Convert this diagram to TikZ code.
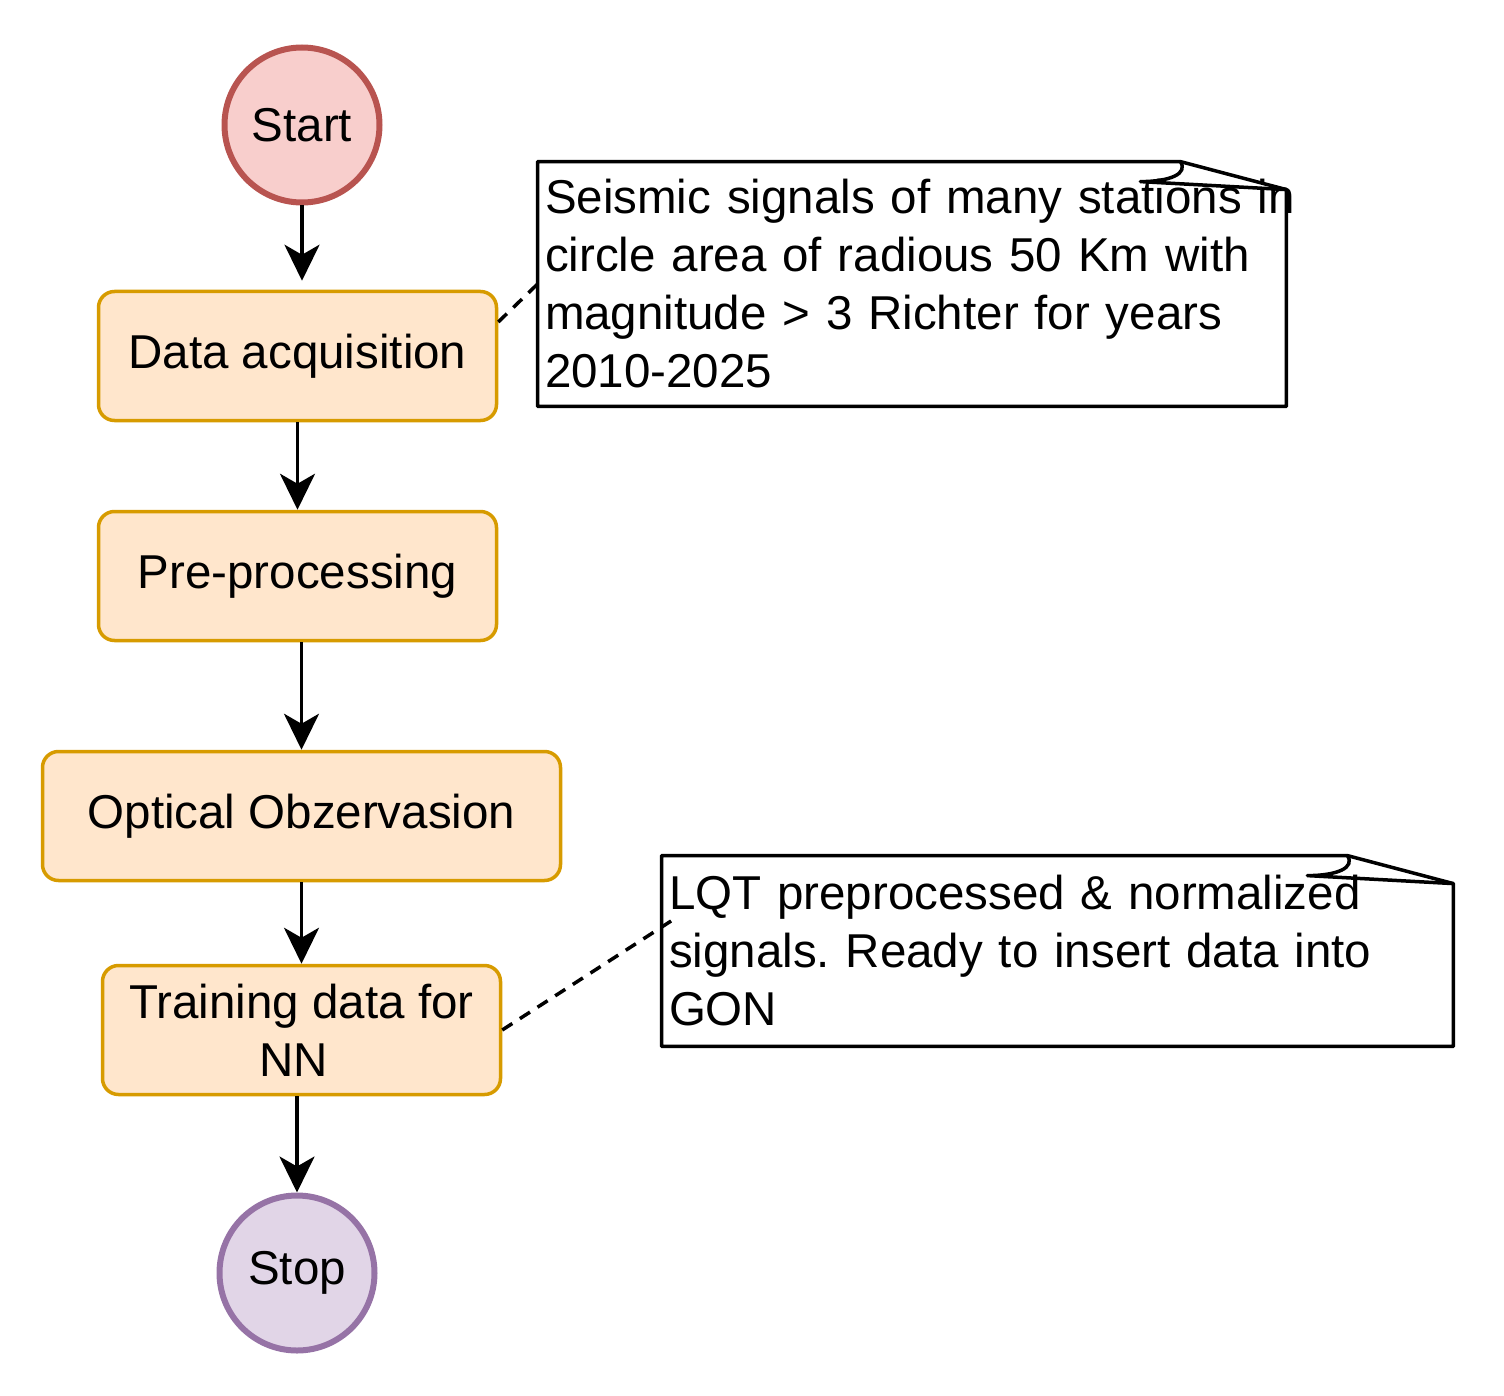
\documentclass[tikz,border=0pt]{standalone}
\usepackage{fontspec}
\setmainfont{Liberation Sans}
\usetikzlibrary{arrows.meta}
\definecolor{startfill}{HTML}{F8CECC}\definecolor{startline}{HTML}{B85450}
\definecolor{boxfill}{HTML}{FFE6CC}\definecolor{boxline}{HTML}{D79B00}
\definecolor{stopfill}{HTML}{E1D5E7}\definecolor{stopline}{HTML}{9673A6}
\newcommand{\foldnote}[1]{\draw[line width=1.75pt,line join=round] (#1.north west)--([xshift=-53pt]#1.north east)--([yshift=-14pt]#1.north east)--(#1.south east)--(#1.south west)--cycle;
\draw[line width=1.75pt,line join=round] ([xshift=-53pt]#1.north east) .. controls ([xshift=-49pt,yshift=-6pt]#1.north east) and ([xshift=-58pt,yshift=-10pt]#1.north east) .. ([xshift=-73pt,yshift=-10pt]#1.north east)--([yshift=-14pt]#1.north east);}

\begin{document}
\frenchspacing
\begin{tikzpicture}[x=.5pt,y=-.5pt,font=\fontsize{23.75}{29}\selectfont,
  term/.style={draw,circle,line width=3pt,minimum size=77.5pt,inner sep=0pt},
  procbox/.style={draw=boxline,fill=boxfill,rounded corners=8pt,line width=1.75pt,minimum width=199pt,minimum height=64.5pt,align=center,inner sep=2pt},
  notebox/.style={text width=#1,align=left,inner xsep=3.5pt,inner ysep=0pt},
  flow/.style={-{Stealth[length=18pt,width=17.5pt,inset=5pt]},line width=1.75pt},
  link/.style={line width=1.75pt,dash pattern=on 6pt off 4.5pt}]
\useasboundingbox (0,0) rectangle (1504,1396);
\node[term,draw=startline,fill=startfill] (start) at (302,125) {Start};
\node[procbox] (acq) at (297.5,356) {Data acquisition};
\node[procbox] (prep) at (297.5,576) {Pre-processing};
\node[procbox,minimum width=259pt] (optic) at (301.5,816) {Optical Obzervasion};
\node[procbox] (train) at (301.5,1030) {Training data for\\NN\hspace*{8pt}};
\node[term,draw=stopline,fill=stopfill] (stop) at (297,1273) {Stop};
\node[notebox=367pt,minimum width=374pt,minimum height=122pt] (seis) at (912,284) {\mbox{Seismic signals of many stations in}\\circle area of radious 50 Km with\\magnitude > 3 Richter for years\\2010-2025};
\node[notebox=388.5pt,minimum width=395.5pt,minimum height=95pt] (gon) at (1057.5,951) {LQT preprocessed \& normalized\\signals. Ready to insert data into\\GON};
\foldnote{seis}\foldnote{gon}
\draw[flow,shorten >=4.5pt] (start.south) -- (start.south |- acq.north);
\draw[flow] (acq) -- (prep);
\draw[flow] (optic.north |- prep.south) -- (optic.north);
\draw[flow] (optic) -- (train);
\draw[flow] (train.south -| stop) -- (stop.north);
\draw[link] ([yshift=17pt]acq.east) -- (seis.west);
\draw[link] (train.east) -- ([xshift=5.5pt,yshift=15.5pt]gon.west);
\end{tikzpicture}
\end{document}
